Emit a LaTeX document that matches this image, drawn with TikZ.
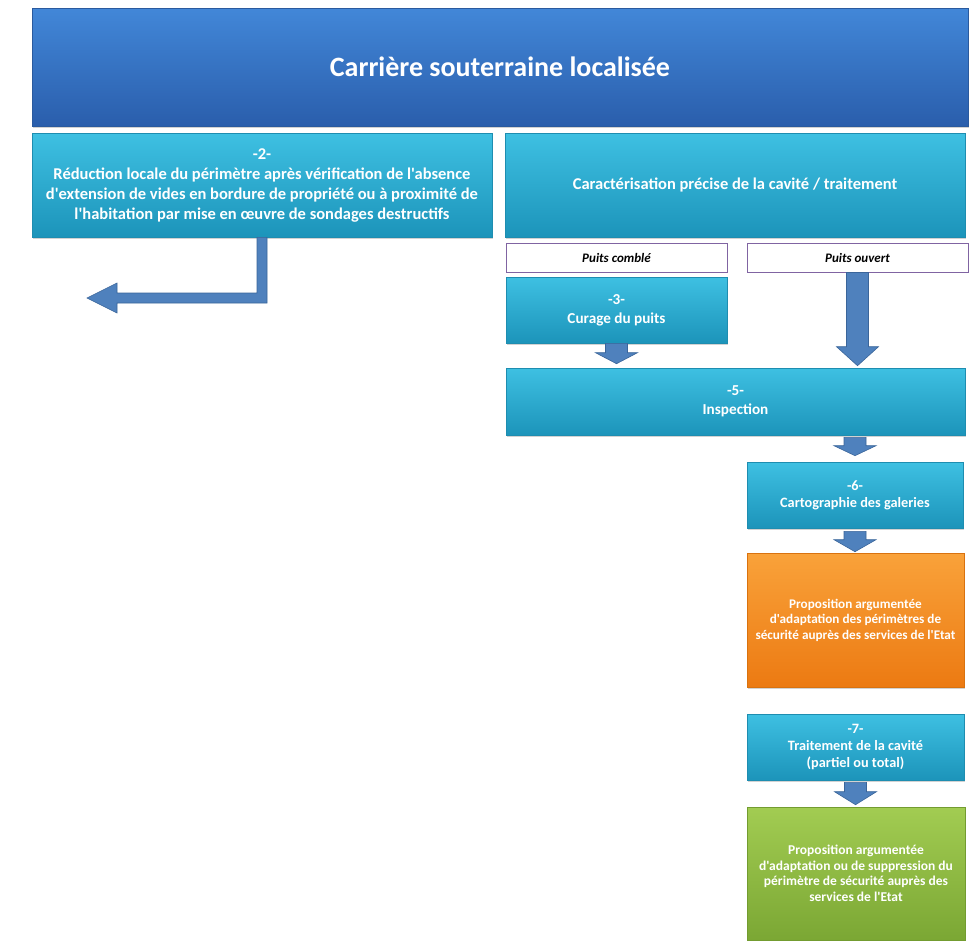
\documentclass[tikz,border=0pt]{standalone}
\usepackage{fontspec}
\setmainfont{Carlito}[Ligatures=TeXOff]
\usetikzlibrary{calc,shadows}

\definecolor{titleTop}{HTML}{4287D8}
\definecolor{titleBot}{HTML}{2A5EAC}
\definecolor{titleEdge}{HTML}{2A5A9E}
\definecolor{cyanTop}{HTML}{3EC0E2}
\definecolor{cyanBot}{HTML}{1C94BA}
\definecolor{cyanEdge}{HTML}{1E8DB0}
\definecolor{orangeTop}{HTML}{F9A23A}
\definecolor{orangeBot}{HTML}{EC7A12}
\definecolor{orangeEdge}{HTML}{D9720F}
\definecolor{greenTop}{HTML}{A2CC52}
\definecolor{greenBot}{HTML}{7BA734}
\definecolor{greenEdge}{HTML}{739C30}
\definecolor{arrowFill}{HTML}{4F81BD}
\definecolor{arrowEdge}{HTML}{3A659A}
\definecolor{labelEdge}{HTML}{8064A2}

\tikzset{
  x=1pt, y=-1pt,
  boxbase/.style={rectangle, inner sep=0pt, align=center, text=white,
    line width=0.6pt,
    drop shadow={opacity=0.35, shadow xshift=1.2pt, shadow yshift=-1.5pt}},
  titlebox/.style={boxbase, draw=titleEdge, top color=titleTop, bottom color=titleBot,
    font=\fontsize{28}{32}\selectfont\bfseries},
  widecyan/.style={boxbase, draw=cyanEdge, top color=cyanTop, bottom color=cyanBot,
    font=\fontsize{16.5}{20}\selectfont\bfseries},
  cyanbox/.style={widecyan, font=\fontsize{15.2}{19}\selectfont\bfseries},
  smallcyan/.style={widecyan, font=\fontsize{14.3}{17}\selectfont\bfseries},
  orangebox/.style={boxbase, draw=orangeEdge, top color=orangeTop, bottom color=orangeBot,
    font=\fontsize{13.2}{15.5}\selectfont\bfseries},
  greenbox/.style={boxbase, draw=greenEdge, top color=greenTop, bottom color=greenBot,
    font=\fontsize{13.5}{15.5}\selectfont\bfseries},
  labelbox/.style={rectangle, inner sep=0pt, draw=labelEdge, line width=1pt, fill=white,
    font=\fontsize{13}{15}\selectfont\bfseries\itshape, text=black},
  blockarrow/.style={fill=arrowFill, draw=arrowEdge, line width=0.6pt, line join=miter},
}

% downward block arrow: shaft from #2, tip at the height of #3
\newcommand{\blkarrow}[3][13pt]{%
  \path[blockarrow] let \p1=(#2), \p2=(#3) in
    (\x1-11pt,\y1) -- (\x1+11pt,\y1) -- (\x1+11pt,\y2+#1) -- (\x1+21pt,\y2+#1)
    -- (\x1,\y2) -- (\x1-21pt,\y2+#1) -- (\x1-11pt,\y2+#1) -- cycle;}

\begin{document}
\begin{tikzpicture}
\useasboundingbox (0,0) rectangle (972,940);
\fill[white] (0,0) rectangle (972,940);

% main header
\node[titlebox, minimum width=936pt, minimum height=118pt] (title) at (500,67)
  {Carrière souterraine localisée};

% left branch
\node[widecyan, minimum width=460pt, minimum height=104pt] (reduc) at (262,185)
  {-2-\\Réduction locale du périmètre après vérification de l'absence\\
   d'extension de vides en bordure de propriété ou à proximité de\\
   l'habitation par mise en œuvre de sondages destructifs};

% right branch
\node[widecyan, minimum width=460pt, minimum height=104pt] (carac) at (735,185)
  {Caractérisation précise de la cavité / traitement};

\node[labelbox, minimum width=221pt, minimum height=29pt] (comble) at (616.5,257.5)
  {Puits comblé};
\node[labelbox, minimum width=221pt, minimum height=29pt] (ouvert) at (857.5,257.5)
  {Puits ouvert};

\node[cyanbox, minimum width=221pt, minimum height=66pt] (curage) at (616.5,310)
  {-3-\\Curage du puits};

\node[cyanbox, minimum width=459pt, minimum height=67pt] (inspect) at (735.5,401.5)
  {-5-\\Inspection};

\node[smallcyan, minimum width=216pt, minimum height=66pt] (carto) at (855,495)
  {-6-\\Cartographie des galeries};

\node[orangebox, minimum width=217pt, minimum height=134pt] (propA) at (855.5,620)
  {Proposition argumentée\\d'adaptation des périmètres de\\sécurité auprès des services de l'Etat};

\node[smallcyan, minimum width=217pt, minimum height=66pt] (traite) at (855.5,747)
  {-7-\\Traitement de la cavité\\(partiel ou total)};

\node[greenbox, minimum width=218pt, minimum height=133pt] (propB) at (856,873.5)
  {Proposition argumentée\\d'adaptation ou de suppression du\\périmètre de sécurité auprès des\\services de l'Etat};

% connectors
\blkarrow[11pt]{curage.south}{$(inspect.north)+(0,-4)$}
\blkarrow[19pt]{ouvert.south}{$(inspect.north)+(0,-2)$}
\blkarrow[10pt]{$(inspect.south -| carto.north)+(0,2)$}{$(carto.north)+(0,-6)$}
\blkarrow[12pt]{$(carto.south)+(0,3)$}{$(propA.north)+(0,-1)$}
\blkarrow[13pt]{$(traite.south)+(0,2)$}{$(propB.north)+(0,-2)$}

% elbow arrow leaving the left branch
\coordinate (elbowtip) at (87,298);
\path[blockarrow] let \p1=(reduc.south), \p2=(elbowtip) in
  (\x1-5pt,\y1) -- (\x1+5pt,\y1) -- (\x1+5pt,\y2-5pt) -- (\x2+30pt,\y2-5pt)
  -- (\x2+30pt,\y2-15pt) -- (\x2,\y2) -- (\x2+30pt,\y2+15pt) -- (\x2+30pt,\y2+5pt)
  -- (\x1-5pt,\y2+5pt) -- cycle;
\end{tikzpicture}
\end{document}
